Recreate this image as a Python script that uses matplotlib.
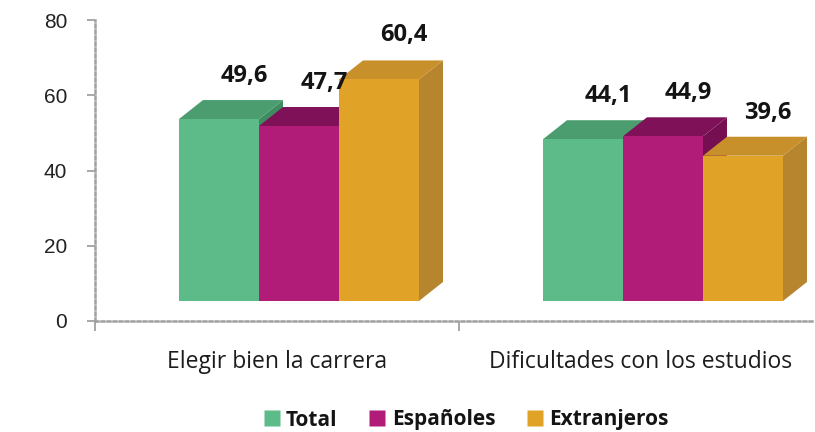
import matplotlib
matplotlib.use("Agg")
import matplotlib.pyplot as plt
from matplotlib.patches import Polygon
from matplotlib.lines import Line2D

# ---- data ----
categories = ["Elegir bien la carrera", "Dificultades con los estudios"]
series_names = ["Total", "Españoles", "Extranjeros"]
total = [49.6, 44.1]
espanoles = [47.7, 44.9]
extranjeros = [60.4, 39.6]
yticks = [0, 20, 40, 60, 80]

# ---- style ----
front_cols = ["#5DBB89", "#B01C77", "#E1A228"]
top_cols = ["#4B9D70", "#7F1158", "#C8902A"]
side_cols = ["#3F8C61", "#760F52", "#B6852E"]

W = 80 / 364          # bar width (data units)
DX = 24 / 364         # depth offset x
DY = 19 / 3.7625      # depth offset y
FLOOR = 20 / 3.7625   # floor offset
HS = 0.975            # height projection scale
SHIFT = 0.0604        # group shift
LABEL_OFF = 15.6

fig = plt.figure(figsize=(8.15, 4.32), dpi=100)
ax = fig.add_axes([95 / 815, (432 - 321) / 432, 720 / 815, 301 / 432])
ax.set_xlim(0, 720 / 364)
ax.set_ylim(0, 80)

values = [total, espanoles, extranjeros]
cat_x = [0.5 + i for i in range(len(categories))]
z = 2
for i, cx in enumerate(cat_x):
    for j, vals in enumerate(values):
        v = vals[i]
        xc = cx + SHIFT + (j - 1) * W
        x0, x1 = xc - W / 2, xc + W / 2
        top = FLOOR + v * HS
        side = Polygon([(x1, FLOOR), (x1 + DX, FLOOR + DY), (x1 + DX, top + DY), (x1, top)],
                       closed=True, facecolor=side_cols[j], edgecolor="none", zorder=z)
        ax.add_patch(side)
        topf = Polygon([(x0, top), (x1, top), (x1 + DX, top + DY), (x0 + DX, top + DY)],
                       closed=True, facecolor=top_cols[j], edgecolor="none", zorder=z + 1)
        ax.add_patch(topf)
        ax.bar(xc, v * HS, bottom=FLOOR, width=W, color=front_cols[j], linewidth=0, zorder=z + 2)
        ax.text(xc + DX + 0.003, v + LABEL_OFF, f"{v:.1f}".replace(".", ","),
                ha="center", va="center", fontsize=17, fontweight="bold",
                family="Open Sans", color="#141414", zorder=50)
        z += 3

# axes styling
for s in ["top", "right"]:
    ax.spines[s].set_visible(False)
for s in ["left", "bottom"]:
    ax.spines[s].set_color("#A0A0A0")
    ax.spines[s].set_linestyle((0, (1.2, 1.2)))
    ax.spines[s].set_linewidth(1.8)

ax.set_yticks(yticks)
ax.set_yticklabels([str(t) for t in yticks], family="Liberation Sans", fontsize=15, color="#222222")
ax.tick_params(axis="y", length=6, width=1.2, color="#9A9A9A", pad=14)

ax.set_xticks([0, 1])
ax.set_xticklabels([])
ax.tick_params(axis="x", which="major", length=7, width=1.2, color="#9A9A9A")
ax.set_xticks(cat_x, minor=True)
ax.set_xticklabels(categories, minor=True, family="Open Sans", fontsize=16.5, color="#1c1c1c")
ax.tick_params(axis="x", which="minor", length=0, pad=21)

handles = [Line2D([], [], marker="s", linestyle="none", markersize=11.5,
                  markerfacecolor=c, markeredgecolor="none") for c in front_cols]
leg = fig.legend(handles, series_names, loc="center", bbox_to_anchor=(466 / 815, 12 / 432),
                 ncol=3, frameon=False, handlelength=0.8, handletextpad=0.3,
                 columnspacing=1.5, prop={"family": "Open Sans", "weight": "bold", "size": 15})
for t in leg.get_texts():
    t.set_color("#141414")

fig.savefig("out.png", dpi=100, facecolor="white")
